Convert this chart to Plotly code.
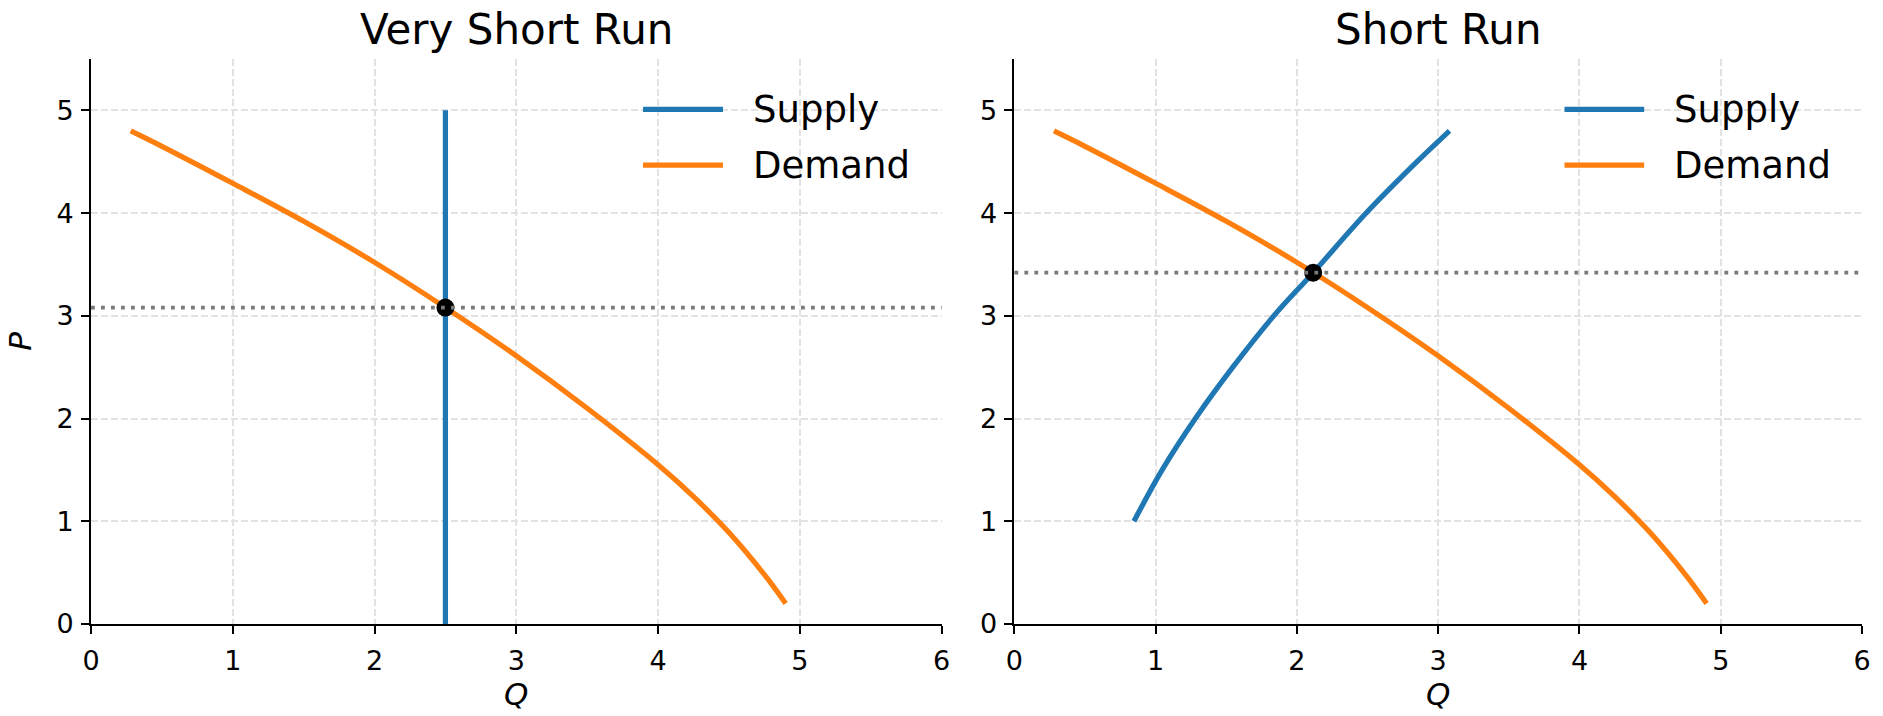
import plotly.graph_objects as go

# ---- data ----
demand_q = [0.28, 0.5, 1.0, 1.5, 2.0, 2.5, 3.0, 3.5, 4.0, 4.25, 4.5, 4.75, 4.9]
demand_p = [4.80, 4.65, 4.29, 3.92, 3.52, 3.08, 2.61, 2.10, 1.55, 1.24, 0.89, 0.48, 0.20]

vsr_supply_q = [2.5, 2.5]
vsr_supply_p = [0.0, 5.0]

sr_supply_q = [0.846, 1.046, 1.281, 1.546, 1.836, 2.115, 2.49, 2.85, 3.08]
sr_supply_p = [1.0, 1.5, 2.0, 2.5, 3.0, 3.42, 4.0, 4.5, 4.8]

vsr_eq_q, vsr_eq_p = [2.5], [3.08]
sr_eq_q, sr_eq_p = [2.115], [3.42]

titles = ["Very Short Run", "Short Run"]
x_ticks = [0, 1, 2, 3, 4, 5, 6]
y_ticks = [0, 1, 2, 3, 4, 5]
x_range = [0, 6]
y_range = [0, 5.5]

# ---- style ----
BLUE = "#1f77b4"
ORANGE = "#ff7f0e"
FONT = "DejaVu Sans"
LW = 5.2

fig = go.Figure()

panels = [
    ("x", "y", vsr_supply_q, vsr_supply_p, vsr_eq_q, vsr_eq_p, "linear"),
    ("x2", "y2", sr_supply_q, sr_supply_p, sr_eq_q, sr_eq_p, "spline"),
]

for i, (xa, ya, sq, sp, eq, ep, sshape) in enumerate(panels):
    fig.add_trace(go.Scatter(x=sq, y=sp, mode="lines", name="Supply",
                             line=dict(color=BLUE, width=LW, shape=sshape, smoothing=1.0),
                             xaxis=xa, yaxis=ya, showlegend=False))
    fig.add_trace(go.Scatter(x=demand_q, y=demand_p, mode="lines", name="Demand",
                             line=dict(color=ORANGE, width=LW, shape="spline", smoothing=1.0),
                             xaxis=xa, yaxis=ya, showlegend=False))
    fig.add_trace(go.Scatter(x=eq, y=ep, mode="markers", name="Equilibrium",
                             marker=dict(color="black", size=16,
                                         line=dict(color="black", width=2)),
                             xaxis=xa, yaxis=ya, showlegend=False))
    xd = "x domain" if xa == "x" else "x2 domain"
    yd = "y domain" if ya == "y" else "y2 domain"
    # horizontal dotted equilibrium price line across the whole panel
    fig.add_shape(type="line", xref=xd, yref=ya, x0=0, x1=1, y0=ep[0], y1=ep[0],
                  line=dict(color="#7a7a7a", width=3.8, dash="3.8px,6.2px"),
                  layer="above")
    # title
    fig.add_annotation(text=titles[i], xref=xd, yref=yd, x=0.5, y=1,
                       xanchor="center", yanchor="middle", yshift=30,
                       showarrow=False, font=dict(family=FONT, size=42, color="black"))
    # legend (long line swatches like the reference)
    for name, color, ly in (("Supply", BLUE, 0.911), ("Demand", ORANGE, 0.812)):
        fig.add_shape(type="line", xref=xd, yref=yd, x0=0.649, x1=0.743, y0=ly, y1=ly,
                      line=dict(color=color, width=LW))
        fig.add_annotation(text=name, xref=xd, yref=yd, x=0.776, y=ly,
                           xanchor="left", yanchor="middle", showarrow=False,
                           font=dict(family=FONT, size=37, color="black"))

axis_common = dict(
    showline=True, linecolor="black", linewidth=1.8,
    ticks="outside", ticklen=8, tickwidth=1.8, tickcolor="black",
    showgrid=True, gridcolor="#e2e2e2", gridwidth=1.5, griddash="7px,3px",
    zeroline=False, mirror=False,
    tickfont=dict(family=FONT, size=27, color="black"),
)

fig.update_layout(
    width=1883, height=716, autosize=False,
    margin=dict(l=91, r=18, t=59, b=84),
    paper_bgcolor="white", plot_bgcolor="white",
    font=dict(family=FONT, color="black"),
    showlegend=False,
    xaxis=dict(domain=[0, 0.4803], range=x_range, tickvals=x_ticks, ticklabelstandoff=4,
               title=dict(text="<i>Q</i>", font=dict(family=FONT, size=31), standoff=6),
               **axis_common),
    yaxis=dict(domain=[0, 1], range=y_range, tickvals=y_ticks, ticklabelstandoff=2,
               title=dict(text="<i>P</i>", font=dict(family=FONT, size=31), standoff=16),
               **axis_common),
    xaxis2=dict(domain=[0.5214, 1], range=x_range, tickvals=x_ticks, anchor="y2",
                ticklabelstandoff=4,
                title=dict(text="<i>Q</i>", font=dict(family=FONT, size=31), standoff=6),
                **axis_common),
    yaxis2=dict(domain=[0, 1], range=y_range, tickvals=y_ticks, anchor="x2",
                ticklabelstandoff=2, **axis_common),
)

fig.write_html(
    "out.html",
    config={"displayModeBar": False},
    post_script="document.documentElement.style.margin='0';"
                "document.body.style.margin='0';"
                "document.body.style.overflow='hidden';",
)
